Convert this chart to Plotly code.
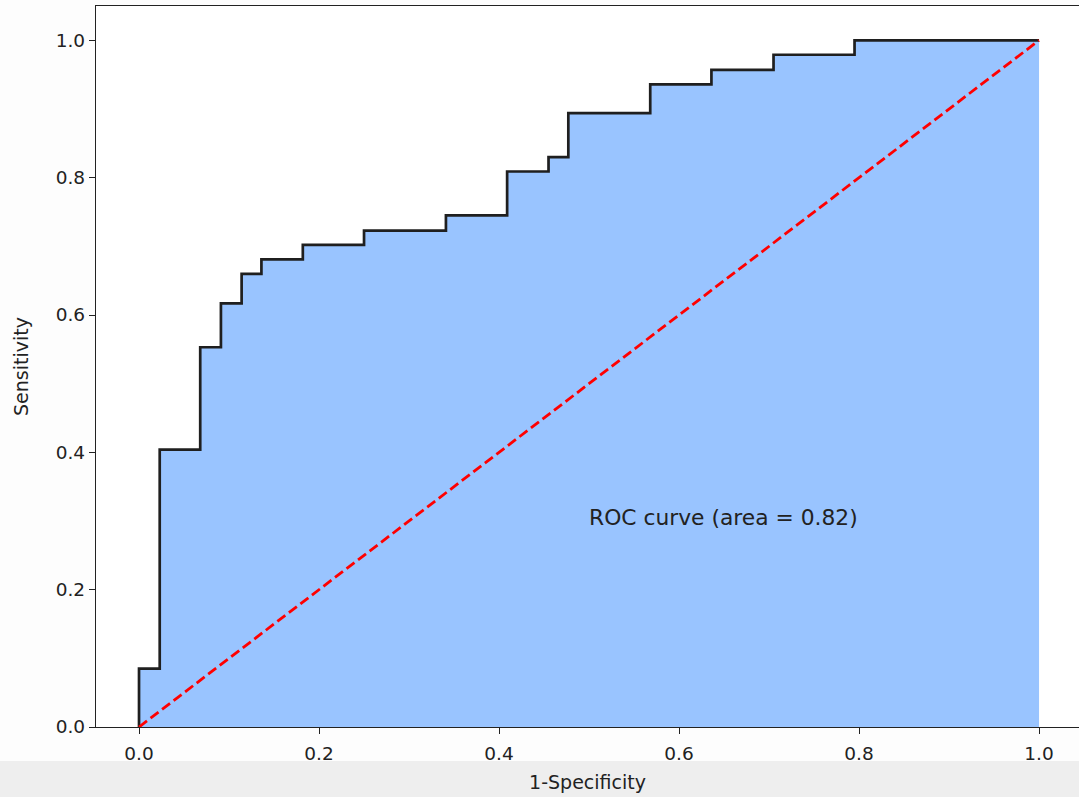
import plotly.graph_objects as go

# ROC curve corner points (false positive rate, true positive rate)
fpr = [0.0, 0.0, 0.023, 0.023, 0.068, 0.068, 0.091, 0.091, 0.114, 0.114,
       0.136, 0.136, 0.182, 0.182, 0.250, 0.250, 0.341, 0.341, 0.409, 0.409,
       0.455, 0.455, 0.477, 0.477, 0.568, 0.568, 0.636, 0.636, 0.705, 0.705,
       0.795, 0.795, 1.0]
tpr = [0.0, 0.085, 0.085, 0.404, 0.404, 0.553, 0.553, 0.617, 0.617, 0.660,
       0.660, 0.681, 0.681, 0.702, 0.702, 0.723, 0.723, 0.745, 0.745, 0.809,
       0.809, 0.830, 0.830, 0.894, 0.894, 0.936, 0.936, 0.957, 0.957, 0.979,
       0.979, 1.0, 1.0]

chance_x = [0.0, 1.0]
chance_y = [0.0, 1.0]

auc_label = "ROC curve (area = 0.82)"
tick_vals = [0.0, 0.2, 0.4, 0.6, 0.8, 1.0]
tick_text = ["0.0", "0.2", "0.4", "0.6", "0.8", "1.0"]

FONT = "DejaVu Sans"
INK = "#222222"

fig = go.Figure()

fig.add_trace(go.Scatter(
    x=fpr, y=tpr, mode="lines",
    line=dict(color="#1f1f1f", width=2.7),
    fill="tozeroy", fillcolor="#99c4ff",
    hoverinfo="skip", showlegend=False,
))

fig.add_trace(go.Scatter(
    x=chance_x, y=chance_y, mode="lines",
    line=dict(color="#ff0000", width=2.8, dash="10px,4.5px"),
    hoverinfo="skip", showlegend=False,
))

fig.add_annotation(
    x=0.5, y=0.3, xref="x", yref="y",
    text=auc_label, showarrow=False,
    xanchor="left", yanchor="middle", yshift=4, xshift=-2,
    font=dict(family=FONT, size=21.8, color=INK),
)

# light band along the bottom edge of the page
fig.add_shape(
    type="rect", xref="paper", yref="paper",
    x0=-0.2, x1=1.2, y0=-0.0472, y1=-0.2,
    fillcolor="#eeeeee", line=dict(width=0), layer="below",
)

axis_common = dict(
    showline=True, linecolor=INK, linewidth=1.3,
    ticks="outside", ticklen=6, tickwidth=1.3, tickcolor=INK,
    showgrid=False, zeroline=False,
    tickvals=tick_vals, ticktext=tick_text,
    tickfont=dict(family=FONT, size=18.5, color=INK),
)

fig.update_xaxes(
    **axis_common,
    range=[-0.0478, 1.0444],
    mirror=True,
    ticklabelstandoff=4,
    title=dict(text="1-Specificity", standoff=12,
               font=dict(family=FONT, size=19, color=INK)),
)
fig.update_yaxes(
    **axis_common,
    range=[0.0, 1.05],
    mirror=False,
    title=dict(text="Sensitivity", standoff=22,
               font=dict(family=FONT, size=19, color=INK)),
)

fig.update_layout(
    width=1079, height=797,
    margin=dict(l=96, r=0, t=6, b=70),
    paper_bgcolor="#fdfdfd",
    plot_bgcolor="#ffffff",
)

fig.write_html("out.html")
